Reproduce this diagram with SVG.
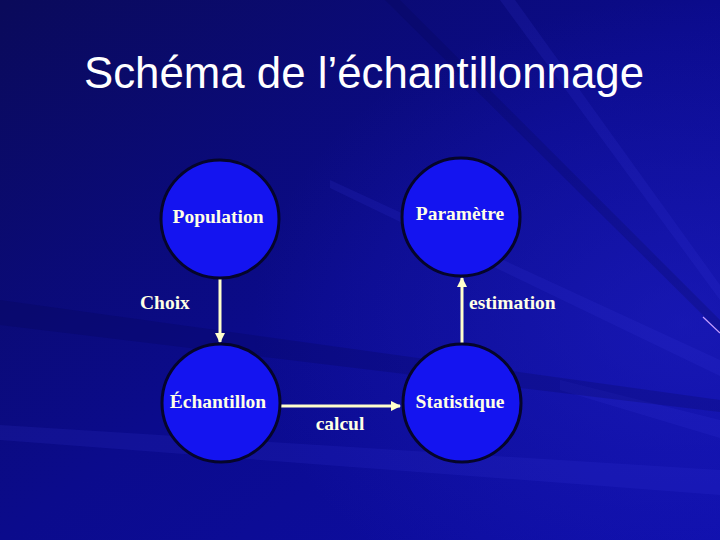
<svg xmlns="http://www.w3.org/2000/svg" width="720" height="540" viewBox="0 0 720 540">
<defs>
<linearGradient id="bg" x1="0" y1="0" x2="1" y2="1">
<stop offset="0" stop-color="#0a0a5a"/>
<stop offset="0.5" stop-color="#0b0b8c"/>
<stop offset="1" stop-color="#0e0eaa"/>
</linearGradient>
<radialGradient id="glow" cx="0.95" cy="0.6" r="0.6">
<stop offset="0" stop-color="#2222c8" stop-opacity="0.5"/>
<stop offset="1" stop-color="#2222c8" stop-opacity="0"/>
</radialGradient>
<marker id="ah" viewBox="0 0 10 10" refX="9" refY="5" markerWidth="3.5" markerHeight="3.5" orient="auto" markerUnits="strokeWidth">
<path d="M0,0 L10,5 L0,10 z" fill="#ffffcc"/>
</marker>
<style>
.node{fill:#1414f0;stroke:#05052a;stroke-width:3}
.lbl{font-family:"Liberation Serif","Times New Roman",serif;font-weight:bold;font-size:19.5px;fill:#ffffe6}
.conn{stroke:#ffffcc;stroke-width:3;fill:none;marker-end:url(#ah)}
</style>
</defs>
<rect width="720" height="540" fill="url(#bg)"/>
<rect width="720" height="540" fill="url(#glow)"/>
<g opacity="0.15" fill="#3a3ae0">
<polygon points="720,470 0,425 0,440 720,495"/>
<polygon points="720,360 330,180 330,188 720,376"/>
<polygon points="720,300 500,0 515,0 720,285"/>
<polygon points="720,420 560,380 560,390 720,438"/>
</g>
<g opacity="0.2" fill="#04044a">
<polygon points="720,400 0,300 0,325 720,412"/>
<polygon points="400,0 720,320 720,332 385,0"/>
</g>
<line x1="703" y1="317" x2="720" y2="333" stroke="#c8a0ff" stroke-width="1.2"/>
<text x="364" y="88" text-anchor="middle" font-family="Liberation Sans, Arial, sans-serif" font-size="44" fill="#ffffff" textLength="560" lengthAdjust="spacingAndGlyphs">Schéma de l’échantillonnage</text>
<g id="connectors">
<line class="conn" x1="220" y1="279" x2="220" y2="342"/>
<line class="conn" x1="462" y1="343" x2="462" y2="278"/>
<line class="conn" x1="281" y1="406" x2="400" y2="406"/>
<text class="lbl" x="140" y="309">Choix</text>
<text class="lbl" x="469" y="309">estimation</text>
<text class="lbl" x="340" y="430" text-anchor="middle">calcul</text>
</g>
<g id="population">
<circle class="node" cx="220" cy="219" r="59"/>
<text class="lbl" x="218" y="223" text-anchor="middle">Population</text>
</g>
<g id="parametre">
<circle class="node" cx="461" cy="217" r="59"/>
<text class="lbl" x="460" y="220" text-anchor="middle">Paramètre</text>
</g>
<g id="echantillon">
<circle class="node" cx="221" cy="403" r="59"/>
<text class="lbl" x="218" y="408" text-anchor="middle">Échantillon</text>
</g>
<g id="statistique">
<circle class="node" cx="462" cy="403" r="59"/>
<text class="lbl" x="460" y="408" text-anchor="middle">Statistique</text>
</g>
</svg>
